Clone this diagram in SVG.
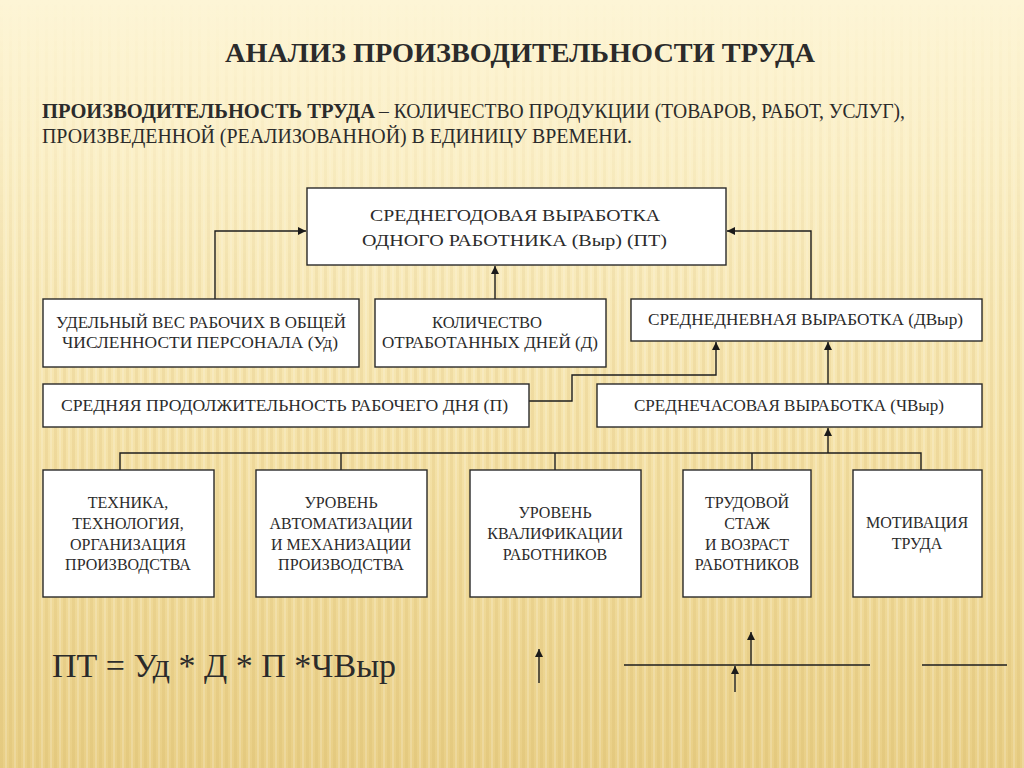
<svg xmlns="http://www.w3.org/2000/svg" width="1024" height="768" viewBox="0 0 1024 768">
<defs>
<linearGradient id="bg" x1="0" y1="0" x2="0" y2="1">
<stop offset="0" stop-color="#fdf5d6"/>
<stop offset="0.2" stop-color="#fbf0c8"/>
<stop offset="0.6" stop-color="#f4e1a6"/>
<stop offset="1" stop-color="#e9cf86"/>
</linearGradient>
<pattern id="stripes" width="9" height="768" patternUnits="userSpaceOnUse">
<rect x="0" y="0" width="3" height="768" fill="#c9a24a" opacity="0.13"/>
<rect x="5" y="0" width="2" height="768" fill="#ffffff" opacity="0.18"/>
</pattern>
<linearGradient id="fade" x1="0" y1="0" x2="0" y2="1">
<stop offset="0" stop-color="#fff" stop-opacity="0"/>
<stop offset="0.15" stop-color="#fff" stop-opacity="0.3"/>
<stop offset="0.4" stop-color="#fff" stop-opacity="1"/>
<stop offset="1" stop-color="#fff" stop-opacity="1"/>
</linearGradient>
<mask id="m"><rect width="1024" height="768" fill="url(#fade)"/></mask>
<marker id="arr" viewBox="0 0 10 10" refX="10" refY="5" markerWidth="9" markerHeight="8" markerUnits="userSpaceOnUse" orient="auto">
<path d="M0,0 L10,5 L0,10 z" fill="#1a1a1a"/>
</marker>
<style>
.box{fill:#fff;stroke:#2a2a2a;stroke-width:1.4}
.t{font-family:'Liberation Serif','Times New Roman',serif;fill:#2b2b2b}
.bt{font-size:16px;text-anchor:middle}
.ct{font-size:16px}
.ln{fill:none;stroke:#1e1e1e;stroke-width:1.4}
</style>
</defs>
<rect width="1024" height="768" fill="url(#bg)"/>
<rect width="1024" height="768" fill="url(#stripes)" mask="url(#m)"/>

<g id="heading">
<text class="t" x="225" y="62" font-size="28" font-weight="bold" textLength="590" lengthAdjust="spacingAndGlyphs" fill="#1a1a1a">АНАЛИЗ ПРОИЗВОДИТЕЛЬНОСТИ ТРУДА</text>
<text class="t" x="42" y="118" font-size="20" font-weight="bold" textLength="333" lengthAdjust="spacingAndGlyphs">ПРОИЗВОДИТЕЛЬНОСТЬ ТРУДА</text>
<text class="t" x="379" y="118" font-size="20" textLength="526" lengthAdjust="spacingAndGlyphs">– КОЛИЧЕСТВО ПРОДУКЦИИ (ТОВАРОВ, РАБОТ, УСЛУГ),</text>
<text class="t" x="42" y="143" font-size="20" textLength="590" lengthAdjust="spacingAndGlyphs">ПРОИЗВЕДЕННОЙ (РЕАЛИЗОВАННОЙ) В ЕДИНИЦУ ВРЕМЕНИ.</text>
</g>

<g id="connectors">
<polyline class="ln" points="215,299 215,231 306,231" marker-end="url(#arr)"/>
<polyline class="ln" points="811,299 811,231 727,231" marker-end="url(#arr)"/>
<polyline class="ln" points="495,299 495,266" marker-end="url(#arr)"/>
<polyline class="ln" points="529,401 572,401 572,375 716,375 716,342" marker-end="url(#arr)"/>
<polyline class="ln" points="828,384 828,342" marker-end="url(#arr)"/>
<polyline class="ln" points="120,470 120,453 921,453 921,470"/>
<line class="ln" x1="341" y1="453" x2="341" y2="470"/>
<line class="ln" x1="555" y1="453" x2="555" y2="470"/>
<line class="ln" x1="752" y1="453" x2="752" y2="470"/>
<polyline class="ln" points="828,453 828,428" marker-end="url(#arr)"/>
</g>

<g id="n-top">
<rect class="box" x="307" y="188" width="419" height="77"/>
<text class="t ct" x="370" y="221" textLength="290" lengthAdjust="spacingAndGlyphs">СРЕДНЕГОДОВАЯ ВЫРАБОТКА</text>
<text class="t ct" x="362" y="246" textLength="305" lengthAdjust="spacingAndGlyphs">ОДНОГО РАБОТНИКА  (Выр) (ПТ)</text>
</g>
<g id="n-ud">
<rect class="box" x="43" y="299" width="316" height="68"/>
<text class="t ct" x="56" y="328" textLength="290" lengthAdjust="spacingAndGlyphs">УДЕЛЬНЫЙ ВЕС РАБОЧИХ В ОБЩЕЙ</text>
<text class="t ct" x="62" y="348" textLength="276" lengthAdjust="spacingAndGlyphs">ЧИСЛЕННОСТИ ПЕРСОНАЛА   (Уд)</text>
</g>
<g id="n-d">
<rect class="box" x="375" y="299" width="231" height="68"/>
<text class="t ct" x="432" y="328" textLength="110" lengthAdjust="spacingAndGlyphs">КОЛИЧЕСТВО</text>
<text class="t ct" x="382" y="348" textLength="216" lengthAdjust="spacingAndGlyphs">ОТРАБОТАННЫХ  ДНЕЙ (Д)</text>
</g>
<g id="n-dvyr">
<rect class="box" x="631" y="299" width="351" height="42"/>
<text class="t ct" x="648" y="325" textLength="315" lengthAdjust="spacingAndGlyphs">СРЕДНЕДНЕВНАЯ  ВЫРАБОТКА   (ДВыр)</text>
</g>
<g id="n-p">
<rect class="box" x="43" y="384" width="486" height="43"/>
<text class="t ct" x="61" y="411" textLength="447" lengthAdjust="spacingAndGlyphs">СРЕДНЯЯ ПРОДОЛЖИТЕЛЬНОСТЬ  РАБОЧЕГО  ДНЯ    (П)</text>
</g>
<g id="n-chvyr">
<rect class="box" x="597" y="384" width="385" height="43"/>
<text class="t ct" x="634" y="411" textLength="310" lengthAdjust="spacingAndGlyphs">СРЕДНЕЧАСОВАЯ  ВЫРАБОТКА  (ЧВыр)</text>
</g>

<g id="n-tech">
<rect class="box" x="43" y="470" width="171" height="127"/>
<text class="t bt" x="128" y="508">ТЕХНИКА,</text>
<text class="t bt" x="128" y="529">ТЕХНОЛОГИЯ,</text>
<text class="t bt" x="128" y="550">ОРГАНИЗАЦИЯ</text>
<text class="t bt" x="128" y="570">ПРОИЗВОДСТВА</text>
</g>
<g id="n-auto">
<rect class="box" x="256" y="470" width="171" height="127"/>
<text class="t bt" x="341" y="508">УРОВЕНЬ</text>
<text class="t bt" x="341" y="529">АВТОМАТИЗАЦИИ</text>
<text class="t bt" x="341" y="550">И МЕХАНИЗАЦИИ</text>
<text class="t bt" x="341" y="570">ПРОИЗВОДСТВА</text>
</g>
<g id="n-qual">
<rect class="box" x="470" y="470" width="171" height="127"/>
<text class="t bt" x="555" y="518">УРОВЕНЬ</text>
<text class="t bt" x="555" y="539">КВАЛИФИКАЦИИ</text>
<text class="t bt" x="555" y="560">РАБОТНИКОВ</text>
</g>
<g id="n-stazh">
<rect class="box" x="683" y="470" width="128" height="127"/>
<text class="t bt" x="747" y="508">ТРУДОВОЙ</text>
<text class="t bt" x="747" y="529">СТАЖ</text>
<text class="t bt" x="747" y="550">И ВОЗРАСТ</text>
<text class="t bt" x="747" y="570">РАБОТНИКОВ</text>
</g>
<g id="n-motiv">
<rect class="box" x="853" y="470" width="129" height="127"/>
<text class="t bt" x="917" y="528">МОТИВАЦИЯ</text>
<text class="t bt" x="917" y="549">ТРУДА</text>
</g>

<text class="t" x="52" y="677" font-size="33" textLength="344" lengthAdjust="spacingAndGlyphs" fill="#333">ПТ = Уд * Д * П *ЧВыр</text>

<g id="stray">
<line class="ln" x1="539" y1="683" x2="539" y2="649" marker-end="url(#arr)"/>
<line class="ln" x1="624" y1="665" x2="870" y2="665"/>
<line class="ln" x1="751" y1="665" x2="751" y2="632" marker-end="url(#arr)"/>
<line class="ln" x1="735" y1="692" x2="735" y2="666" marker-end="url(#arr)"/>
<line class="ln" x1="922" y1="665" x2="1007" y2="665"/>
</g>
</svg>
